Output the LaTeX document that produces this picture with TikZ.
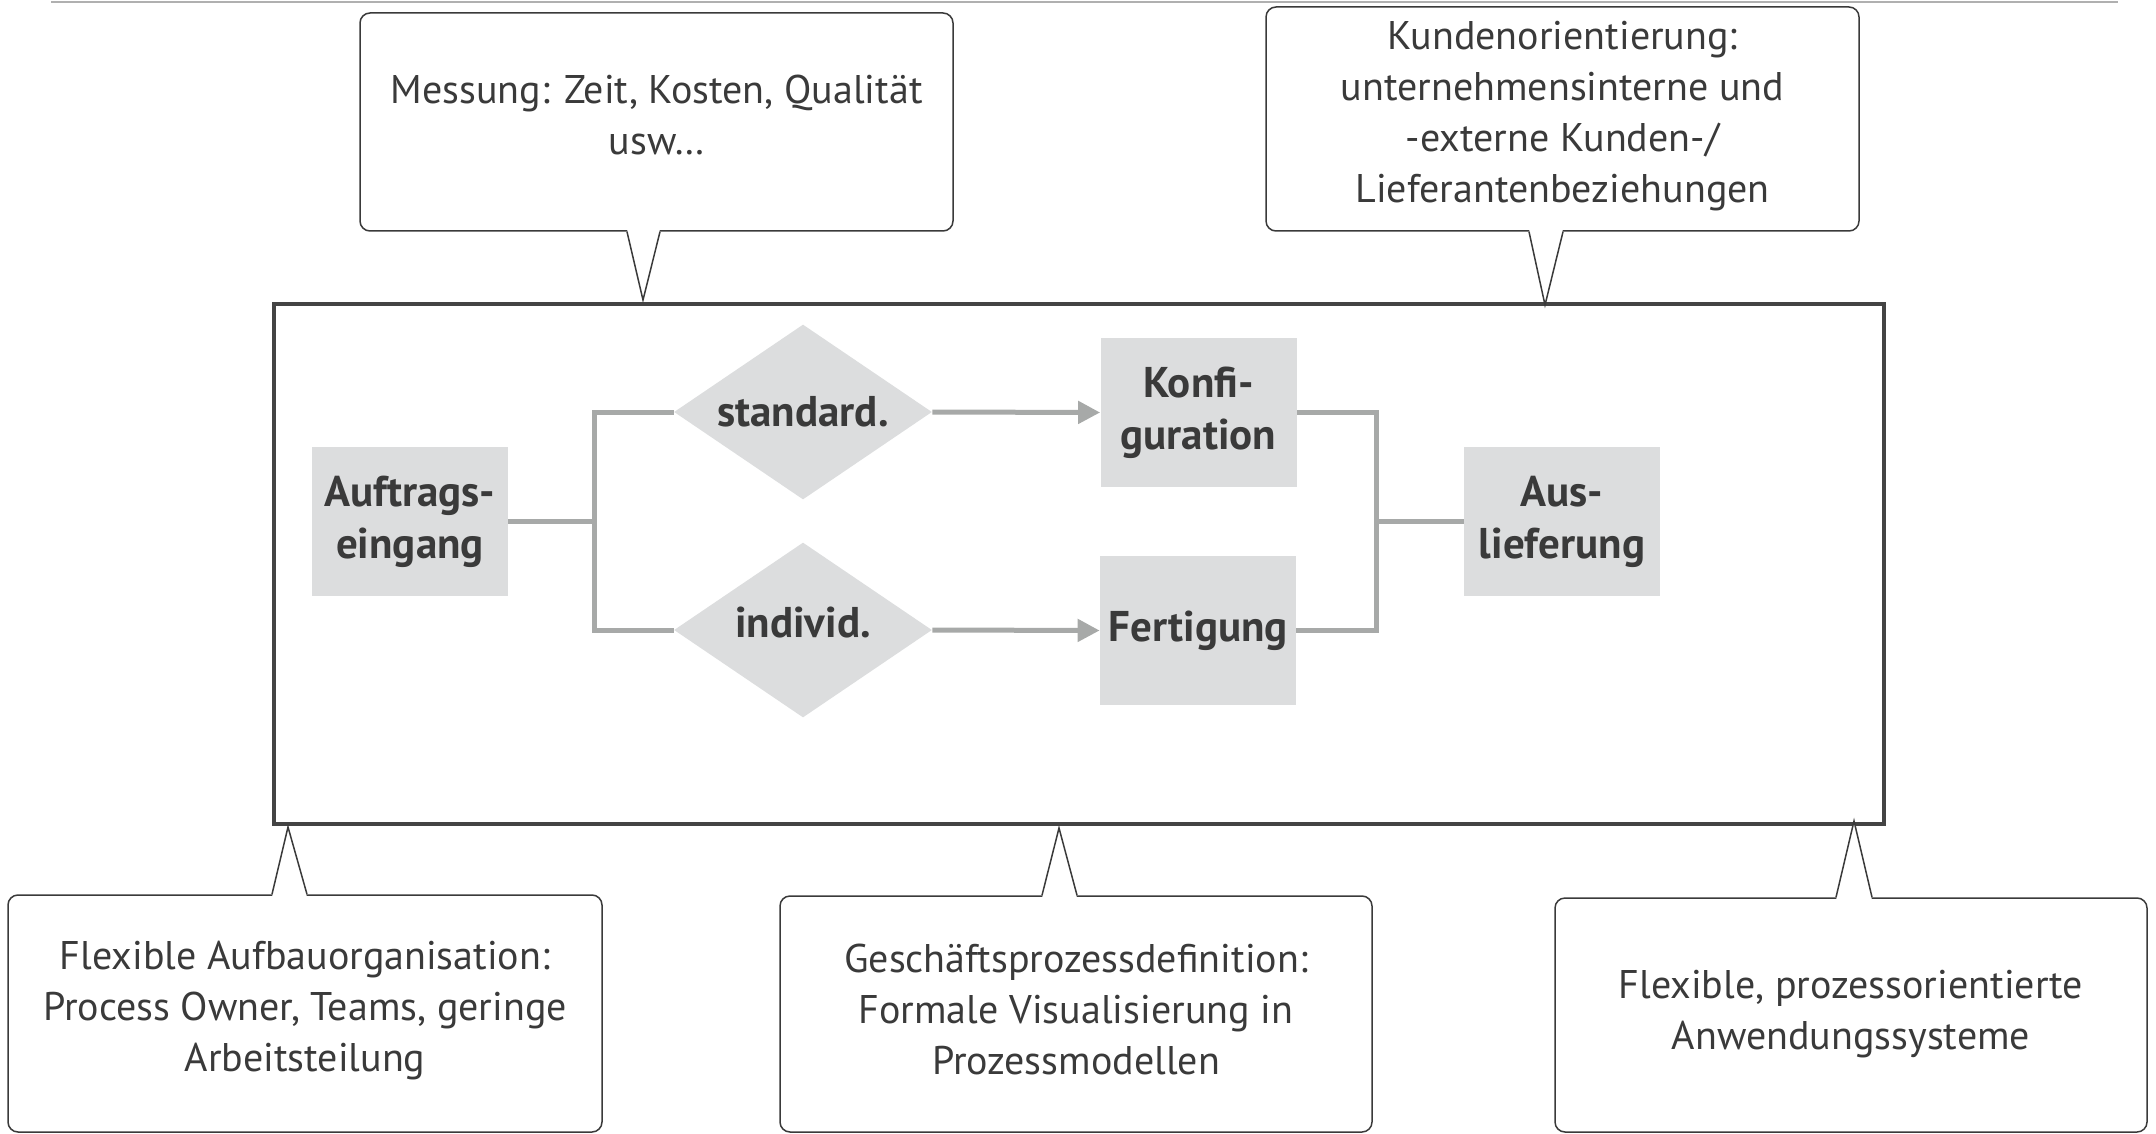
\documentclass[tikz,border=0pt]{standalone}
\usepackage{fontspec}
\setmainfont{PT Sans}
\usetikzlibrary{shapes.geometric,arrows.meta,calc}
\definecolor{boxfill}{HTML}{DCDDDE}
\definecolor{flowline}{HTML}{A7A9A8}
\definecolor{ink}{HTML}{3A3A3A}
\definecolor{framecol}{HTML}{444444}
\definecolor{rulecol}{HTML}{B0B0B0}

\begin{document}
\begin{tikzpicture}[x=0.5pt,y=-0.5pt,
  stepbox/.style={fill=boxfill, draw=none, text=ink, align=center, inner sep=0pt,
    font=\fontsize{21.5}{26}\selectfont\bfseries, minimum width=98pt, minimum height=74.5pt},
  choice/.style={diamond, shape aspect=1.47, fill=boxfill, draw=none, text=ink, inner sep=0pt,
    font=\fontsize{21.5}{26}\selectfont\bfseries, minimum width=129pt, minimum height=87.5pt},
  flow/.style={draw=flowline, line width=2.5pt},
  flowarrow/.style={flow, -{Triangle[length=11pt,width=11pt]}},
  note/.style={draw=ink, line width=0.75pt, rounded corners=5pt, fill=white, inner sep=0pt},
  notetext/.style={text=ink, align=center, inner sep=0pt, font=\fontsize{20}{25.5}\selectfont},
  pointer/.style={draw=ink, line width=0.75pt, line join=miter},
]
\useasboundingbox (0,0) rectangle (2156,1134);

% thin rule along the top
\draw[rulecol, line width=1pt] (51,2) -- (2118,2);

% process frame
\node[draw=framecol, line width=1.75pt, minimum width=805pt, minimum height=260pt,
  inner sep=0pt] (panel) at (1079,564) {};

% process steps
\node[stepbox] (order) at (410,521.5) {Auftrags-\\eingang};
\node[choice] (std) at (803,412) {standard.};
\node[choice] (ind) at (803,630) {\raisebox{3.5pt}[\height][\depth]{individ.}};
\node[stepbox] (conf) at (1198.5,412.5) {Konfi-\\guration};
\node[stepbox] (prod) at (1198,630.5) {Fertigung};
\node[stepbox] (ship) at (1562,521.5) {Aus-\\lieferung};

% connectors
\coordinate (split) at (594,521.5);
\coordinate (join) at (1376,521.5);
\draw[flow] (order.east) -- (split);
\draw[flow] (std.west) -| (split) |- (ind.west);
\draw[flowarrow] (std.east) -- (conf.west);
\draw[flowarrow] (ind.east) -- (prod.west);
\draw[flow] (conf.east) -| (join) |- (prod.east);
\draw[flow] (join) -- (ship.west);

% callout outlines
\node[note, minimum width=296.5pt, minimum height=109pt] (measure) at (656.5,122) {};
\node[note, minimum width=296.5pt, minimum height=112pt] (customer) at (1562.5,119) {};
\node[note, minimum width=297pt, minimum height=118.5pt] (orga) at (305,1013.5) {};
\node[note, minimum width=296pt, minimum height=118pt] (bpm) at (1076,1014) {};
\node[note, minimum width=296pt, minimum height=117pt] (apps) at (1851,1015) {};

% callout texts
\node[notetext] (measuretext) at (656.5,115)
  {Messung: Zeit, Kosten, Qualität\\usw…};
\node[notetext] (customertext) at (1562.5,116)
  {Kundenorientierung:\\unternehmensinterne und\\-externe Kunden-/\\Lieferantenbeziehungen};
\node[notetext] (orgatext) at (305,1010.5)
  {Flexible Aufbauorganisation:\\Process Owner, Teams, geringe\\Arbeitsteilung};
\node[notetext] (bpmtext) at (1076,1009)
  {Geschäftsprozessdefinition:\\Formale Visualisierung in\\Prozessmodellen};
\node[notetext] (appstext) at (1851,1014)
  {Flexible, prozessorientierte\\Anwendungssysteme};

% callout pointers
\fill[white] (627,229) -- (643,300) -- (660,229) -- cycle;
\draw[pointer] ($(measure.south)+(-29.5,0)$) -- (643,300) -- ($(measure.south)+(3.5,0)$);

\fill[white] (1529,229) -- (1545,305) -- (1563,229) -- cycle;
\draw[pointer] ($(customer.south)+(-33.5,0)$) -- (1545,305) -- ($(customer.south)+(0.5,0)$);

\fill[white] (272,897) -- (288,827) -- (307,897) -- cycle;
\draw[pointer] ($(orga.north)+(-33,0)$) -- (288,827) -- ($(orga.north)+(2,0)$);

\fill[white] (1042,898) -- (1059,828) -- (1077,898) -- cycle;
\draw[pointer] ($(bpm.north)+(-34,0)$) -- (1059,828) -- ($(bpm.north)+(1,0)$);

\fill[white] (1836,900) -- (1854,821) -- (1872,900) -- cycle;
\draw[pointer] ($(apps.north)+(-15,0)$) -- (1854,821) -- ($(apps.north)+(21,0)$);
\end{tikzpicture}
\end{document}
